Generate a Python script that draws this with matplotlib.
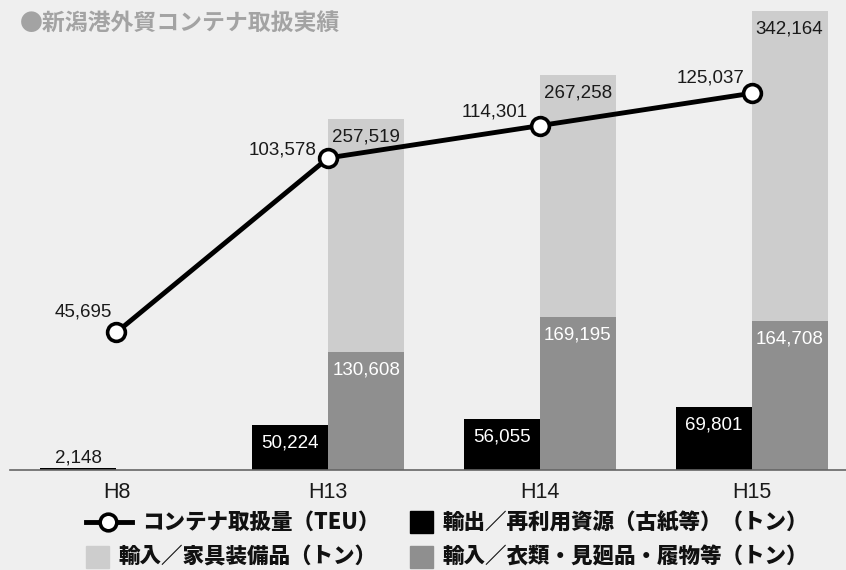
import numpy as np
import matplotlib
matplotlib.use("Agg")
import matplotlib.pyplot as plt
from matplotlib.lines import Line2D
from matplotlib.patches import Rectangle

# data
years = ["H8", "H13", "H14", "H15"]
teu = [45695, 103578, 114301, 125037]                 # コンテナ取扱量 (TEU)
export_recycle = [2148, 50224, 56055, 69801]          # 輸出/再利用資源 (トン)
import_clothing = [0, 130608, 169195, 164708]         # 輸入/衣類・見廻品・履物等 (トン)
import_furniture = [0, 257519, 267258, 342164]        # 輸入/家具装備品 (トン)

title = "●新潟港外貿コンテナ取扱実績"
lbl_teu = "コンテナ取扱量（TEU）"
lbl_export = "輸出／再利用資源（古紙等）（トン）"
lbl_furn = "輸入／家具装備品（トン）"
lbl_cloth = "輸入／衣類・見廻品・履物等（トン）"

BG = "#efefef"
C_EXPORT = "#000000"
C_CLOTH = "#8f8f8f"
C_FURN = "#cdcdcd"
TXT = "#1a1a1a"

plt.rcParams["font.family"] = ["Liberation Sans", "Noto Sans CJK JP"]

W, H = 846, 570
fig = plt.figure(figsize=(W / 100, H / 100), dpi=100, facecolor=BG)


def fpos(xp, yp):
    # pixel position (from top-left) -> figure fraction
    return xp / W, 1 - yp / H


ax = fig.add_axes([10 / W, 100 / H, 836 / W, 470 / H])
ax.set_facecolor("none")
x = np.arange(len(years))
bw = 0.359

ax.bar(x - bw / 2, export_recycle, bw, color=C_EXPORT)
ax.bar(x + bw / 2, import_clothing, bw, color=C_CLOTH)
ax.bar(x + bw / 2, import_furniture, bw, bottom=import_clothing, color=C_FURN)

ax.set_xlim(-0.503, 3.446)
ax.set_ylim(0, 519000)
for s in ["left", "right", "top"]:
    ax.spines[s].set_visible(False)
ax.spines["bottom"].set_color("#666666")
ax.spines["bottom"].set_linewidth(1.2)
ax.set_yticks([])
ax.set_xticks(x, years)
ax.tick_params(axis="x", length=0, pad=9, labelsize=15.5, labelcolor=TXT)

lab_fs = 13.5
inside = -18 * 0.72  # label offset below the top of a segment, in points

for i, v in enumerate(export_recycle):
    if v < 20000:
        ax.annotate(f"{v:,}", (x[i] - bw / 2, v), xytext=(0, 10 * 0.72),
                    textcoords="offset points", ha="center", va="center",
                    fontsize=lab_fs, color=TXT)
    else:
        ax.annotate(f"{v:,}", (x[i] - bw / 2, v), xytext=(0, inside),
                    textcoords="offset points", ha="center", va="center",
                    fontsize=lab_fs, color="white")

for i, v in enumerate(import_clothing):
    if v:
        ax.annotate(f"{v:,}", (x[i] + bw / 2, v), xytext=(0, inside),
                    textcoords="offset points", ha="center", va="center",
                    fontsize=lab_fs, color="white")

for i, v in enumerate(import_furniture):
    if v:
        ax.annotate(f"{v:,}", (x[i] + bw / 2, v + import_clothing[i]), xytext=(0, inside),
                    textcoords="offset points", ha="center", va="center",
                    fontsize=lab_fs, color=TXT)

ax2 = ax.twinx()
ax2.set_ylim(0, 156000)
ax2.axis("off")
ax2.plot(x, teu, color="black", lw=3.5, marker="o", ms=12.8,
         mfc="white", mec="black", mew=2.6, zorder=5)

label_offsets_px = [(-4, 20), (-12, 8), (-12, 14), (-7, 15)]
for i, v in enumerate(teu):
    dx, dy = label_offsets_px[i]
    ax2.annotate(f"{v:,}", (x[i], v), xytext=(dx * 0.72, dy * 0.72),
                 textcoords="offset points", ha="right", va="center",
                 fontsize=lab_fs, color=TXT)

# title
fig.text(*fpos(20, 23), title, ha="left", va="center", fontsize=16.5,
         weight="bold", color="#a3a3a3", family="Noto Sans CJK JP")

# legend, laid out by hand
leg_fs = 15.5
leg_kw = dict(ha="left", va="center", fontsize=leg_fs, weight="heavy",
              color="#111111", family="Noto Sans CJK JP")
r1, r2 = 522, 557

x0, y0 = fpos(86, r1)
x1, _ = fpos(132, r1)
fig.add_artist(Line2D([x0, x1], [y0, y0], color="black", lw=3.5,
                      transform=fig.transFigure))
xm, _ = fpos(108, r1)
fig.add_artist(Line2D([xm], [y0], color="black", marker="o", ms=12, mfc="white",
                      mew=2.6, transform=fig.transFigure))
fig.text(*fpos(142, r1), lbl_teu, **leg_kw)


def swatch(xp, yc, color):
    fx, fy = fpos(xp, yc + 11)
    fig.add_artist(Rectangle((fx, fy), 23 / W, 22 / H, color=color,
                             transform=fig.transFigure))


swatch(410, r1, C_EXPORT)
fig.text(*fpos(442, r1), lbl_export, **leg_kw)
swatch(86, r2, C_FURN)
fig.text(*fpos(118, r2), lbl_furn, **leg_kw)
swatch(410, r2, C_CLOTH)
fig.text(*fpos(442, r2), lbl_cloth, **leg_kw)

fig.savefig("out.png", dpi=100, facecolor=BG)
plt.close(fig)
